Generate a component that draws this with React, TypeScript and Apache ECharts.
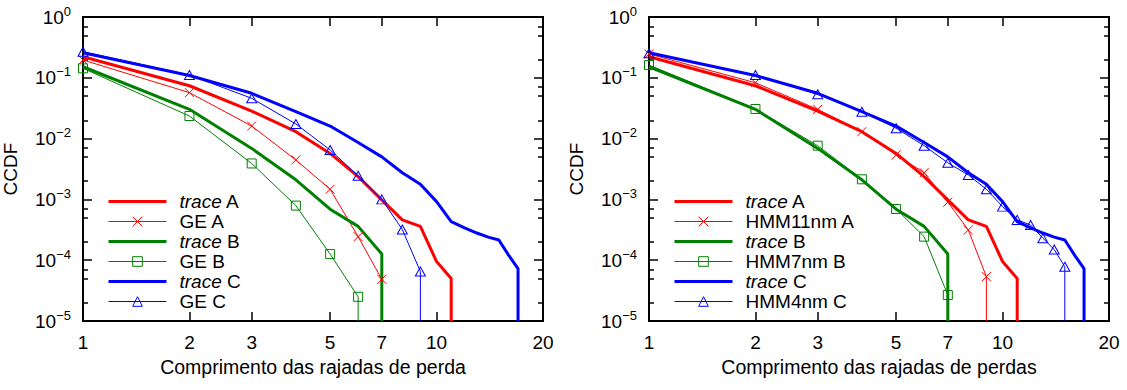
import { useEffect, useRef } from 'react';
import * as echarts from 'echarts';

const FONT = 'Liberation Sans';
const FS = 19;
const RED = '#ff0000';
const GREEN = '#008000';
const BLUE = '#0000ff';

const X_TICKS = [1, 2, 3, 5, 7, 10, 20];
const Y_MAJOR = [1e-5, 1e-4, 1e-3, 1e-2, 1e-1, 1];
const Y_MINOR = [
  2e-5, 5e-5, 7e-5, 2e-4, 5e-4, 7e-4, 2e-3, 5e-3, 7e-3,
  2e-2, 5e-2, 7e-2, 0.2, 0.5, 0.7,
];
const Y_FLOOR = 1e-5;

const LEFT_TITLE = 'Comprimento das rajadas de perda';
const RIGHT_TITLE = 'Comprimento das rajadas de perdas';
const Y_TITLE = 'CCDF';

// measured traces (same in both panels)
const traceA_x = [1, 2, 3, 4, 5, 6, 7, 8, 9, 10, 11];
const traceA_y = [0.222, 0.074, 0.0284, 0.013, 0.0057, 0.00237, 0.00098, 0.00046, 0.00036, 9.5e-5, 5.0e-5];
const traceB_x = [1, 2, 3, 4, 5, 6, 7];
const traceB_y = [0.152, 0.0303, 0.0069, 0.0021, 0.00069, 0.00036, 0.000126];
const traceC_x = [1, 2, 3, 4, 5, 6, 7, 8, 9, 10, 11, 12, 13, 14, 15, 16, 17];
const traceC_y = [0.259, 0.109, 0.0556, 0.0277, 0.0161, 0.0086, 0.005, 0.00275, 0.00177, 0.00092, 0.00043, 0.00034, 0.00028, 0.00024, 0.000215, 0.00012, 7.3e-5];

// GE models (left panel)
const geA_x = [1, 2, 3, 4, 5, 6, 7];
const geA_y = [0.196, 0.057, 0.0161, 0.00445, 0.00147, 0.000244, 4.85e-5];
const geB_x = [1, 2, 3, 4, 5, 6];
const geB_y = [0.143, 0.0235, 0.0039, 0.00079, 0.000126, 2.5e-5];
const geC_x = [1, 2, 3, 4, 5, 6, 7, 8, 9];
const geC_y = [0.269, 0.111, 0.046, 0.0174, 0.0065, 0.00245, 0.001, 0.00032, 6.5e-5];

// HMM models (right panel)
const hmmA_x = [1, 2, 3, 4, 5, 6, 7, 8, 9];
const hmmA_y = [0.246, 0.083, 0.0303, 0.013, 0.00537, 0.00275, 0.0009, 0.000314, 5.36e-5];
const hmmB_x = [1, 2, 3, 4, 5, 6, 7];
const hmmB_y = [0.162, 0.0307, 0.00765, 0.00214, 0.000695, 0.000244, 2.68e-5];
const hmmC_x = [1, 2, 3, 4, 5, 6, 7, 8, 9, 10, 11, 12, 13, 14, 15];
const hmmC_y = [0.253, 0.111, 0.0535, 0.0277, 0.0148, 0.00765, 0.004, 0.00252, 0.00147, 0.00076, 0.00046, 0.00038, 0.00023, 0.00015, 7.8e-5];

const CROSS = 'path://M0,0L10,10M10,0L0,10';

function makeSeries(
  name: string, xs: number[], ys: number[], color: string, grid: number,
  thick: boolean, symbol?: string, symbolSize?: number | number[]
) {
  const data: any[] = xs.map((x, i) => [x, ys[i]]);
  data.push({ value: [xs[xs.length - 1], Y_FLOOR], symbol: 'none' });
  return {
    type: 'line',
    name,
    xAxisIndex: grid * 2,
    yAxisIndex: grid * 4,
    data,
    silent: true,
    emphasis: { disabled: true },
    showSymbol: !!symbol,
    symbol: symbol || 'none',
    symbolSize: symbolSize || 9,
    lineStyle: { color, width: thick ? 3 : 1 },
    itemStyle: symbol
      ? { color: 'none', borderColor: color, borderWidth: 1 }
      : { color },
  };
}

function xAxes(grid: number, title: string) {
  const tickStyle = { color: '#000', width: 1.5 };
  return [
    {
      type: 'log', logBase: 10, gridIndex: grid, min: 1, max: 20, position: 'bottom',
      axisLine: { show: false }, splitLine: { show: false },
      axisTick: { show: true, inside: true, length: 9, lineStyle: tickStyle, customValues: X_TICKS },
      axisLabel: {
        customValues: X_TICKS, margin: 12, fontSize: FS, fontFamily: FONT, color: '#000',
        formatter: (v: number) => String(Math.round(v)),
      },
      name: title, nameLocation: 'middle', nameGap: 35,
      nameTextStyle: { fontSize: FS + 0.5, fontFamily: FONT, color: '#000' },
    },
    {
      type: 'log', logBase: 10, gridIndex: grid, min: 1, max: 20, position: 'top',
      axisLine: { show: false }, splitLine: { show: false },
      axisTick: { show: true, inside: true, length: 9, lineStyle: tickStyle, customValues: X_TICKS },
      axisLabel: { show: false },
    },
  ];
}

function yAxes(grid: number) {
  const tickStyle = { color: '#000', width: 1.5 };
  const base = {
    type: 'log', logBase: 10, gridIndex: grid, min: 1e-5, max: 1,
    axisLine: { show: false }, splitLine: { show: false },
  };
  return [
    {
      ...base, position: 'left',
      axisTick: { show: true, inside: true, length: 9, lineStyle: tickStyle, customValues: Y_MAJOR },
      axisLabel: {
        customValues: Y_MAJOR, margin: 12, color: '#000',
        formatter: (v: number) => {
          const e = Math.round(Math.log10(v));
          return `{b|10}{s|${e < 0 ? '\u2212' + -e : e}}`;
        },
        rich: {
          b: { fontSize: FS, fontFamily: FONT, color: '#000', lineHeight: FS, verticalAlign: 'bottom' },
          s: { fontSize: 13, fontFamily: FONT, color: '#000', lineHeight: 13, verticalAlign: 'bottom', padding: [0, 0, 9, 0] },
        },
      },
      name: Y_TITLE, nameLocation: 'middle', nameGap: 63,
      nameTextStyle: { fontSize: FS, fontFamily: FONT, color: '#000' },
    },
    {
      ...base, position: 'left',
      axisTick: { show: true, inside: true, length: 5, lineStyle: tickStyle, customValues: Y_MINOR },
      axisLabel: { show: false },
    },
    {
      ...base, position: 'right',
      axisTick: { show: true, inside: true, length: 9, lineStyle: tickStyle, customValues: Y_MAJOR },
      axisLabel: { show: false },
    },
    {
      ...base, position: 'right',
      axisTick: { show: true, inside: true, length: 5, lineStyle: tickStyle, customValues: Y_MINOR },
      axisLabel: { show: false },
    },
  ];
}

function legend(left: number, names: string[]) {
  return {
    orient: 'vertical', left, top: 192, padding: 0,
    itemWidth: 58, itemHeight: 12, itemGap: 1, selectedMode: false,
    data: names.map((n, i) => ({
      name: n,
      lineStyle: { width: i % 2 === 0 ? 3 : 1 },
      itemStyle: i % 2 === 0
        ? { color: 'none', borderWidth: 0, opacity: 0 }
        : { borderWidth: 1 },
    })),
    formatter: (name: string) =>
      name.startsWith('trace ') ? `{i|trace} ${name.slice(6)}` : name,
    textStyle: {
      fontSize: FS, fontFamily: FONT, color: '#000', lineHeight: FS, padding: [0, 0, 0, 8],
      rich: { i: { fontStyle: 'italic', fontSize: FS, fontFamily: FONT, color: '#000', lineHeight: FS } },
    },
  };
}

export default function App() {
  const ref = useRef<HTMLDivElement>(null);
  useEffect(() => {
    document.body.style.margin = '0';
    const chart = echarts.init(ref.current!, undefined, { renderer: 'svg' });
    const gridStyle = { show: true, borderColor: '#000', borderWidth: 2, backgroundColor: 'transparent' };
    chart.setOption({
      animation: false,
      backgroundColor: '#fff',
      textStyle: { fontFamily: FONT },
      grid: [
        { ...gridStyle, left: 83, width: 460, top: 17, height: 304 },
        { ...gridStyle, left: 649, width: 460, top: 17, height: 304 },
      ],
      xAxis: [...xAxes(0, LEFT_TITLE), ...xAxes(1, RIGHT_TITLE)],
      yAxis: [...yAxes(0), ...yAxes(1)],
      legend: [
        legend(107, ['trace A', 'GE A', 'trace B', 'GE B', 'trace C', 'GE C']),
        legend(673, ['trace A', 'HMM11nm A', 'trace B', 'HMM7nm B', 'trace C', 'HMM4nm C']),
      ],
      series: [
        makeSeries('trace A', traceA_x, traceA_y, RED, 0, true),
        makeSeries('GE A', geA_x, geA_y, RED, 0, false, CROSS, 9),
        makeSeries('trace B', traceB_x, traceB_y, GREEN, 0, true),
        makeSeries('GE B', geB_x, geB_y, GREEN, 0, false, 'rect', 9),
        makeSeries('trace C', traceC_x, traceC_y, BLUE, 0, true),
        makeSeries('GE C', geC_x, geC_y, BLUE, 0, false, 'triangle', [10, 9]),
        makeSeries('trace A', traceA_x, traceA_y, RED, 1, true),
        makeSeries('HMM11nm A', hmmA_x, hmmA_y, RED, 1, false, CROSS, 9),
        makeSeries('trace B', traceB_x, traceB_y, GREEN, 1, true),
        makeSeries('HMM7nm B', hmmB_x, hmmB_y, GREEN, 1, false, 'rect', 9),
        makeSeries('trace C', traceC_x, traceC_y, BLUE, 1, true),
        makeSeries('HMM4nm C', hmmC_x, hmmC_y, BLUE, 1, false, 'triangle', [10, 9]),
      ],
    });
    return () => chart.dispose();
  }, []);
  return <div ref={ref} style={{ width: 1127, height: 390 }} />;
}
